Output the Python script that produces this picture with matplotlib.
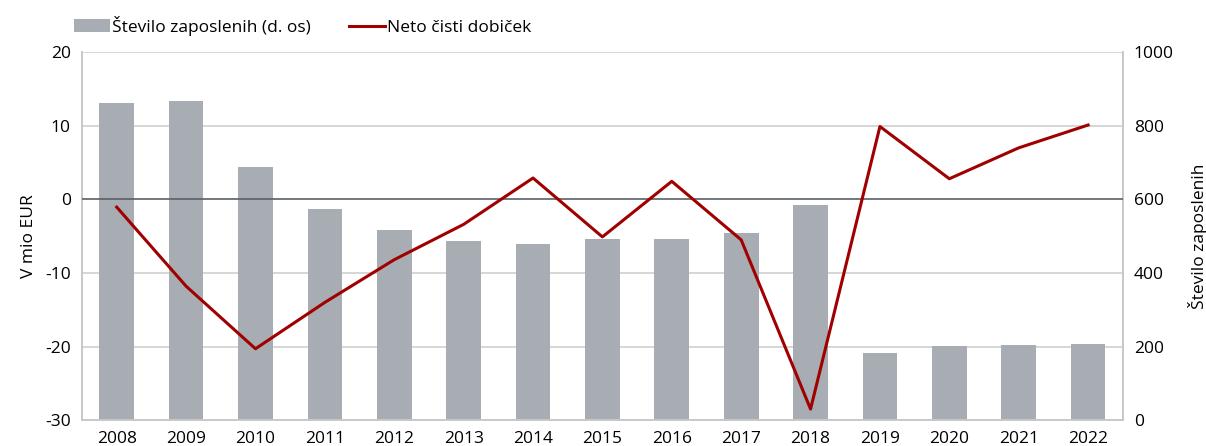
import matplotlib
matplotlib.use('Agg')
from matplotlib import pyplot as plt
import numpy as np

years = ['2008', '2009', '2010', '2011', '2012', '2013', '2014', '2015',
         '2016', '2017', '2018', '2019', '2020', '2021', '2022']
zaposleni = [862, 866, 689, 573, 518, 488, 478, 493, 491, 508, 584, 183, 201, 203, 207]
dobicek = [-1.05, -11.8, -20.3, -14.0, -8.2, -3.4, 2.9, -5.1, 2.45, -5.5, -28.5,
           9.9, 2.8, 7.0, 10.1]

plt.rcParams['font.family'] = ['Open Sans', 'DejaVu Sans']
plt.rcParams['font.size'] = 12.5
plt.rcParams['axes.unicode_minus'] = False

fig = plt.figure(figsize=(12.06, 4.46), dpi=100)
ax1 = fig.add_axes([0.068, 0.058, 0.863, 0.825])
ax2 = ax1.twinx()

x = np.arange(len(years))
bars = ax2.bar(x, zaposleni, width=0.5, color='#a7adb2', zorder=2,
               label='Število zaposlenih (d. os)')
line, = ax1.plot(x, dobicek, color='#a00000', lw=2.2, zorder=5,
                 label='Neto čisti dobiček')

ax1.set_zorder(ax2.get_zorder() + 1)
ax1.patch.set_visible(False)

ax1.set_xlim(-0.5, len(years) - 0.5)
ax1.set_ylim(-30, 20)
ax1.set_yticks([-30, -20, -10, 0, 10, 20])
ax2.set_ylim(0, 1000)
ax2.set_yticks([0, 200, 400, 600, 800, 1000])
ax1.set_xticks(x)
ax1.set_xticklabels(years)

# grid na levi osi, pod stolpci
for v in [-20, -10, 10, 20]:
    ax2.axhline((v + 30) * 20, color='#d0d0d0', lw=1.2, zorder=1)
ax1.axhline(0, color='#5a6068', lw=1.2, zorder=3)

for a in (ax1, ax2):
    a.tick_params(length=0, pad=8)
    for s in ['top', 'bottom', 'left', 'right']:
        a.spines[s].set_color('#c8c8c8')
        a.spines[s].set_linewidth(1.2)
    a.spines['top'].set_visible(False)

ax1.set_ylabel('V mio EUR', labelpad=6)
ax2.set_ylabel('Število zaposlenih', labelpad=10)

fig.legend(handles=[bars, line], loc='upper left', bbox_to_anchor=(0.048, 1.0),
           ncol=2, frameon=False, handlelength=2.1, handletextpad=0.1,
           columnspacing=2.2)

plt.savefig('out.png')
plt.close()
